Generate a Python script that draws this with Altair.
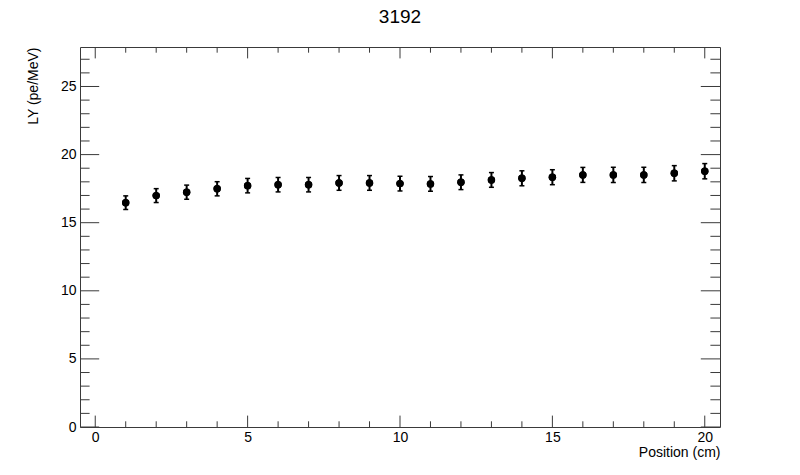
import altair as alt
import pandas as pd

# ---- data ----
positions = [1, 2, 3, 4, 5, 6, 7, 8, 9, 10, 11, 12, 13, 14, 15, 16, 17, 18, 19, 20]
ly = [16.47, 16.99, 17.24, 17.49, 17.72, 17.79, 17.79, 17.92, 17.92, 17.87,
      17.85, 17.97, 18.14, 18.26, 18.34, 18.51, 18.51, 18.51, 18.63, 18.78]
ly_err = [0.50, 0.51, 0.52, 0.52, 0.53, 0.53, 0.53, 0.54, 0.54, 0.54,
          0.54, 0.54, 0.54, 0.55, 0.55, 0.55, 0.56, 0.56, 0.56, 0.56]

x_major = [0, 5, 10, 15, 20]
x_minor = [1, 2, 3, 4, 6, 7, 8, 9, 11, 12, 13, 14, 16, 17, 18, 19]
y_major = [0, 5, 10, 15, 20, 25]
y_minor = [1, 2, 3, 4, 6, 7, 8, 9, 11, 12, 13, 14, 16, 17, 18, 19,
           21, 22, 23, 24, 26, 27]

chart_title = "3192"
x_title = "Position (cm)"
y_title = "LY (pe/MeV)"

# ---- layout / style ----
W, H = 640, 380
FONT = "Liberation Sans"
LINE = "#3a3a3a"
X_MAJ, X_MIN = 11.4, 5.7
Y_MAJ, Y_MIN = 19.2, 9.6

df = pd.DataFrame({"pos": positions, "ly": ly, "err": ly_err})
df["lo"] = df["ly"] - df["err"]
df["hi"] = df["ly"] + df["err"]

xscale = alt.Scale(domain=[-0.5, 20.5], nice=False, zero=False)
yscale = alt.Scale(domain=[0, 27.9], nice=False, zero=False)

x_axis = alt.Axis(
    values=x_major, format="d", ticks=False, domain=False, grid=False,
    labelFont=FONT, labelFontSize=14, labelColor="black", labelPadding=3,
    labelFlush=False,
    title=x_title, titleFont=FONT, titleFontSize=14, titleFontWeight="normal",
    titleColor="black", titleAlign="right", titleX=W, titleY=25,
    titleBaseline="middle",
)
y_axis = alt.Axis(
    values=y_major, format="d", ticks=False, domain=False, grid=False,
    labelFont=FONT, labelFontSize=14, labelColor="black", labelPadding=4,
    labelFlush=False,
    title=y_title, titleFont=FONT, titleFontSize=14, titleFontWeight="normal",
    titleColor="black", titleAngle=270, titleAlign="right", titleX=-46.5,
    titleY=0, titleBaseline="middle",
)

base = alt.Chart(df)

points = base.mark_circle(size=55, color="black", opacity=1).encode(
    x=alt.X("pos:Q", scale=xscale, axis=x_axis),
    y=alt.Y("ly:Q", scale=yscale, axis=y_axis),
)

bars = base.mark_rule(color="black", strokeWidth=2).encode(
    x=alt.X("pos:Q", scale=xscale, axis=x_axis),
    y=alt.Y("lo:Q", scale=yscale, axis=y_axis),
    y2="hi:Q",
)

cap_lo = base.mark_rule(color="black", strokeWidth=1.5, xOffset=-2.5, x2Offset=2.5).encode(
    x=alt.X("pos:Q", scale=xscale, axis=x_axis),
    x2="pos:Q",
    y=alt.Y("lo:Q", scale=yscale, axis=y_axis),
)
cap_hi = base.mark_rule(color="black", strokeWidth=1.5, xOffset=-2.5, x2Offset=2.5).encode(
    x=alt.X("pos:Q", scale=xscale, axis=x_axis),
    x2="pos:Q",
    y=alt.Y("hi:Q", scale=yscale, axis=y_axis),
)


def xticks(vals, length, top):
    d = pd.DataFrame({"t": vals})
    if top:
        y, y2 = alt.value(0), alt.value(length)
    else:
        y, y2 = alt.value(H), alt.value(H - length)
    return alt.Chart(d).mark_rule(color=LINE, strokeWidth=1).encode(
        x=alt.X("t:Q", scale=xscale, axis=x_axis), y=y, y2=y2
    )


def yticks(vals, length, right):
    d = pd.DataFrame({"t": vals})
    if right:
        x, x2 = alt.value(W), alt.value(W - length)
    else:
        x, x2 = alt.value(0), alt.value(length)
    return alt.Chart(d).mark_rule(color=LINE, strokeWidth=1).encode(
        y=alt.Y("t:Q", scale=yscale, axis=y_axis), x=x, x2=x2
    )


ticks = [
    xticks(x_major, X_MAJ, False), xticks(x_minor, X_MIN, False),
    xticks(x_major, X_MAJ, True), xticks(x_minor, X_MIN, True),
    yticks(y_major, Y_MAJ, False), yticks(y_minor, Y_MIN, False),
    yticks(y_major, Y_MAJ, True), yticks(y_minor, Y_MIN, True),
]

chart = alt.layer(points, *ticks, bars, cap_lo, cap_hi, points).properties(
    width=W,
    height=H,
    autosize=alt.AutoSizeParams(type="none"),
    padding={"left": 72, "top": 39, "right": 72, "bottom": 40},
    background="white",
    title=alt.TitleParams(
        chart_title, font=FONT, fontSize=19, fontWeight="normal", color="black",
        anchor="middle", offset=20,
    ),
).configure_view(stroke=LINE, strokeWidth=1)

chart.save("out.html", embed_options={"renderer": "svg", "actions": False})
